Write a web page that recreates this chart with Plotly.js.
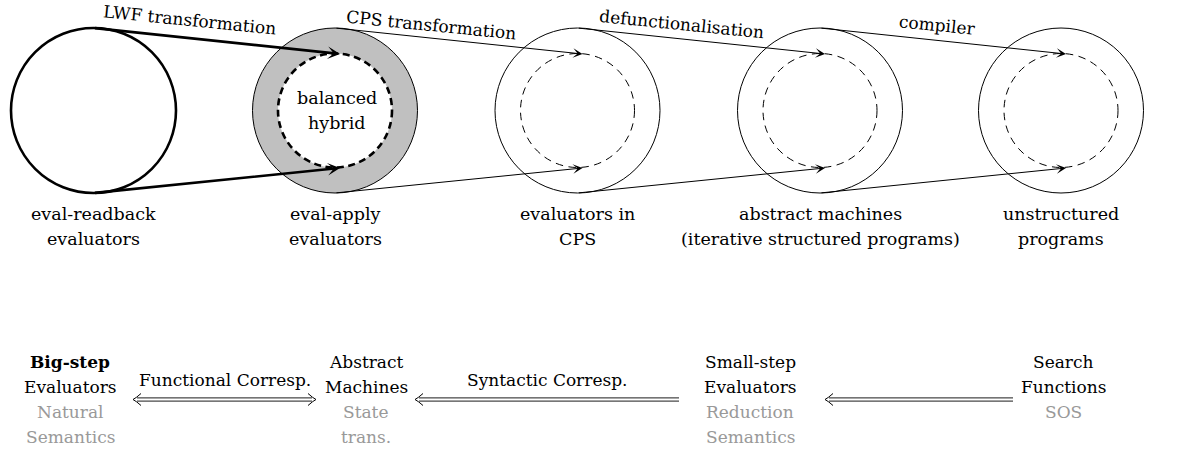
<!DOCTYPE html>
<html><head><meta charset="utf-8">
<script src="https://cdn.plot.ly/plotly-3.0.1.min.js"></script>
<style>html,body{margin:0;padding:0;background:#fff}#c{width:1179px;height:453px}</style>
</head><body><div id="c"></div>
<script>
// ---- content ----
const stageLabels = [
  ["eval-readback", "evaluators"],
  ["eval-apply", "evaluators"],
  ["evaluators in", "CPS"],
  ["abstract machines", "(iterative structured programs)"],
  ["unstructured", "programs"]
];
const transformLabels = ["LWF transformation", "CPS transformation", "defunctionalisation", "compiler"];
const hybridLabel = ["balanced", "hybrid"];
const semTitles = [["<b>Big-step</b>", "Evaluators"], ["Abstract", "Machines"], ["Small-step", "Evaluators"], ["Search", "Functions"]];
const semNames = [["Natural", "Semantics"], ["State", "trans."], ["Reduction", "Semantics"], ["SOS"]];
const corrLabels = ["Functional Corresp.", "Syntactic Corresp.", ""];
const corrBothWays = [true, false, false];

// ---- layout geometry (pixels) ----
const W = 1179, H = 453;
const stageX = [93.5, 335, 577.5, 820, 1061];
const CY = 110.5, R = 82.5, RI = 57;
const tipDX = 5;
const transLabelPos = [[190, 20], [431, 25], [681, 24], [937, 25]];
const transAngle = 5.7;
const semX = [70, 366, 750, 1063];
const semY0 = 362, lineH = 25;
const corrSeg = [[133, 316], [415, 679], [825, 1013]];
const corrY = 399.5;

const FONT = "DejaVu Serif, Liberation Serif, serif";
const shapes = [], annotations = [];

// circles
stageX.forEach((x, i) => {
  if (i === 0) {
    shapes.push({type: "circle", xref: "x", yref: "y", x0: x - R, x1: x + R, y0: CY - R, y1: CY + R,
      line: {color: "#000", width: 2.6}});
  } else if (i === 1) {
    shapes.push({type: "circle", xref: "x", yref: "y", x0: x - R, x1: x + R, y0: CY - R, y1: CY + R,
      fillcolor: "#c0c0c0", line: {color: "#000", width: 1}});
    shapes.push({type: "circle", xref: "x", yref: "y", x0: x - RI, x1: x + RI, y0: CY - RI, y1: CY + RI,
      fillcolor: "#fff", line: {color: "#000", width: 2.6, dash: "7px,4.5px"}});
  } else {
    shapes.push({type: "circle", xref: "x", yref: "y", x0: x - R, x1: x + R, y0: CY - R, y1: CY + R,
      line: {color: "#000", width: 1}});
    shapes.push({type: "circle", xref: "x", yref: "y", x0: x - RI, x1: x + RI, y0: CY - RI, y1: CY + RI,
      line: {color: "#000", width: 1, dash: "7.5px,5.5px"}});
  }
});

// transformation arrows
transformLabels.forEach((t, i) => {
  const x0 = stageX[i], x1 = stageX[i + 1] + tipDX;
  const thick = i === 0;
  [[CY - R, CY - RI + 0.5], [CY + R, CY + RI + 0.5]].forEach(([ya, yb]) => {
    annotations.push({x: x1, y: yb, ax: x0, ay: ya, xref: "x", yref: "y", axref: "x", ayref: "y",
      text: "", showarrow: true, arrowhead: 3, arrowsize: thick ? 0.8 : 1.6,
      arrowwidth: thick ? 2.6 : 1, arrowcolor: "#000", standoff: 0});
  });
  annotations.push({x: transLabelPos[i][0], y: transLabelPos[i][1], xref: "x", yref: "y",
    text: t, showarrow: false, textangle: transAngle, font: {family: FONT, size: 17, color: "#000"}});
});

// stage labels
stageLabels.forEach((lines, i) => {
  lines.forEach((s, j) => annotations.push({x: stageX[i], y: 214 + j * lineH, xref: "x", yref: "y",
    text: s, showarrow: false, font: {family: FONT, size: 17.5, color: "#000"}}));
});
hybridLabel.forEach((s, j) => annotations.push({x: stageX[1] + 2, y: 98 + j * lineH, xref: "x", yref: "y",
  text: s, showarrow: false, font: {family: FONT, size: 17.5, color: "#000"}}));

// semantics row
semTitles.forEach((lines, i) => {
  lines.forEach((s, j) => annotations.push({x: semX[i], y: semY0 + j * lineH, xref: "x", yref: "y",
    text: s, showarrow: false, font: {family: FONT, size: 17, color: "#000"}}));
  semNames[i].forEach((s, j) => annotations.push({x: semX[i], y: semY0 + (j + 2) * lineH, xref: "x", yref: "y",
    text: s, showarrow: false, font: {family: FONT, size: 17, color: "#999"}}));
});

// double-line arrows
function head(x, y, dir) { // dir=+1 tip points left, -1 tip points right
  const b = 8 * dir;
  return `M${x + b},${y - 6} Q${x + 3 * dir},${y - 1.5} ${x},${y} Q${x + 3 * dir},${y + 1.5} ${x + b},${y + 6}`;
}
corrSeg.forEach(([xa, xb], i) => {
  const y = corrY;
  const xs = xa + 4, xe = corrBothWays[i] ? xb - 4 : xb;
  shapes.push({type: "line", xref: "x", yref: "y", x0: xs, x1: xe, y0: y - 1.6, y1: y - 1.6, line: {color: "#000", width: 0.9}});
  shapes.push({type: "line", xref: "x", yref: "y", x0: xs, x1: xe, y0: y + 1.6, y1: y + 1.6, line: {color: "#000", width: 0.9}});
  shapes.push({type: "path", xref: "x", yref: "y", path: head(xa, y, 1), line: {color: "#000", width: 1}});
  if (corrBothWays[i]) shapes.push({type: "path", xref: "x", yref: "y", path: head(xb, y, -1), line: {color: "#000", width: 1}});
  if (corrLabels[i]) annotations.push({x: (xa + xb) / 2, y: 380, xref: "x", yref: "y",
    text: corrLabels[i], showarrow: false, font: {family: FONT, size: 17, color: "#000"}});
});

const layout = {
  width: W, height: H, margin: {l: 0, r: 0, t: 0, b: 0},
  paper_bgcolor: "#fff", plot_bgcolor: "#fff", showlegend: false,
  xaxis: {range: [0, W], visible: false, fixedrange: true},
  yaxis: {range: [H, 0], visible: false, fixedrange: true},
  shapes, annotations
};
Plotly.newPlot("c", [], layout, {staticPlot: true, displayModeBar: false});
</script></body></html>
